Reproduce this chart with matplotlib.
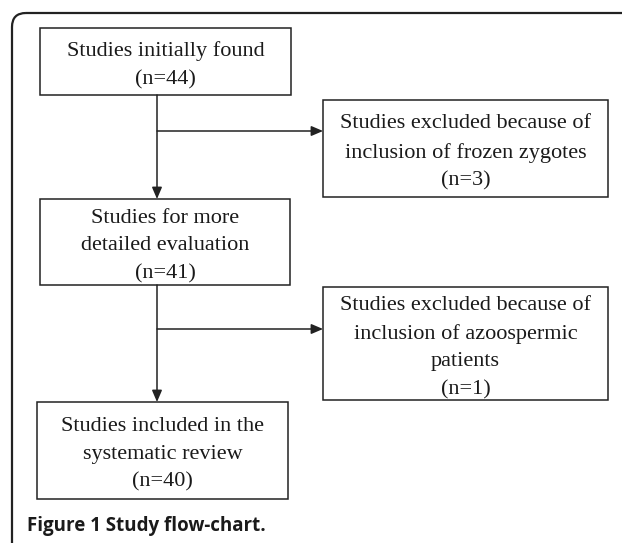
import matplotlib.pyplot as plt
from matplotlib.patches import Rectangle, FancyBboxPatch

# Textos das caixas
main_steps = ["Studies initially found\n(n=44)",
              "Studies for more\ndetailed evaluation\n(n=41)",
              "Studies included in the\nsystematic review\n(n=40)"]
excluded_steps = ["Studies excluded because of\ninclusion of frozen zygotes\n(n=3)",
                  "Studies excluded because of\ninclusion of azoospermic\npatients\n(n=1)"]
caption = "Figure 1 Study flow-chart."

# Caixas (x0, y0, x1, y1) em pixels
main_boxes = [(40, 28, 291, 95), (40, 199, 290, 285), (37, 402, 288, 499)]
side_boxes = [(323, 100, 608, 197), (323, 287, 608, 400)]

fig = plt.figure(figsize=(6.22, 5.43), dpi=100)
ax = fig.add_axes([0, 0, 1, 1])
ax.set_xlim(0, 622)
ax.set_ylim(543, 0)
ax.axis('off')

col = '#222222'
serif = ['Liberation Serif', 'DejaVu Serif']

# moldura externa arredondada
frame = FancyBboxPatch((12, 13), 700, 600, boxstyle="round,pad=0,rounding_size=14",
                       fill=False, ec=col, lw=1.6)
ax.add_patch(frame)

def draw_box(b, txt):
    x0, y0, x1, y1 = b
    ax.add_patch(Rectangle((x0, y0), x1 - x0, y1 - y0, fill=False, ec=col, lw=1.1))
    ax.text((x0 + x1) / 2, (y0 + y1) / 2 + 4, txt, ha='center', va='center',
            fontsize=16, family=serif, color='#1a1a1a', linespacing=1.62)

for b, t in zip(main_boxes, main_steps):
    draw_box(b, t)
for b, t in zip(side_boxes, excluded_steps):
    draw_box(b, t)

xc = 157
arrow = dict(arrowstyle='-|>,head_length=0.7,head_width=0.3', color=col, lw=1.1,
             shrinkA=0, shrinkB=0)
# setas verticais
ax.annotate('', xy=(xc, main_boxes[1][1]), xytext=(xc, main_boxes[0][3]), arrowprops=arrow)
ax.annotate('', xy=(xc, main_boxes[2][1]), xytext=(xc, main_boxes[1][3]), arrowprops=arrow)
# setas horizontais
ax.annotate('', xy=(side_boxes[0][0], 131), xytext=(xc, 131), arrowprops=arrow)
ax.annotate('', xy=(side_boxes[1][0], 329), xytext=(xc, 329), arrowprops=arrow)

ax.text(27, 526, caption, ha='left', va='center', fontsize=13.5, fontweight='bold',
        family=['Open Sans', 'DejaVu Sans'], color='#1a1a1a')

fig.savefig('out.png', dpi=100)
